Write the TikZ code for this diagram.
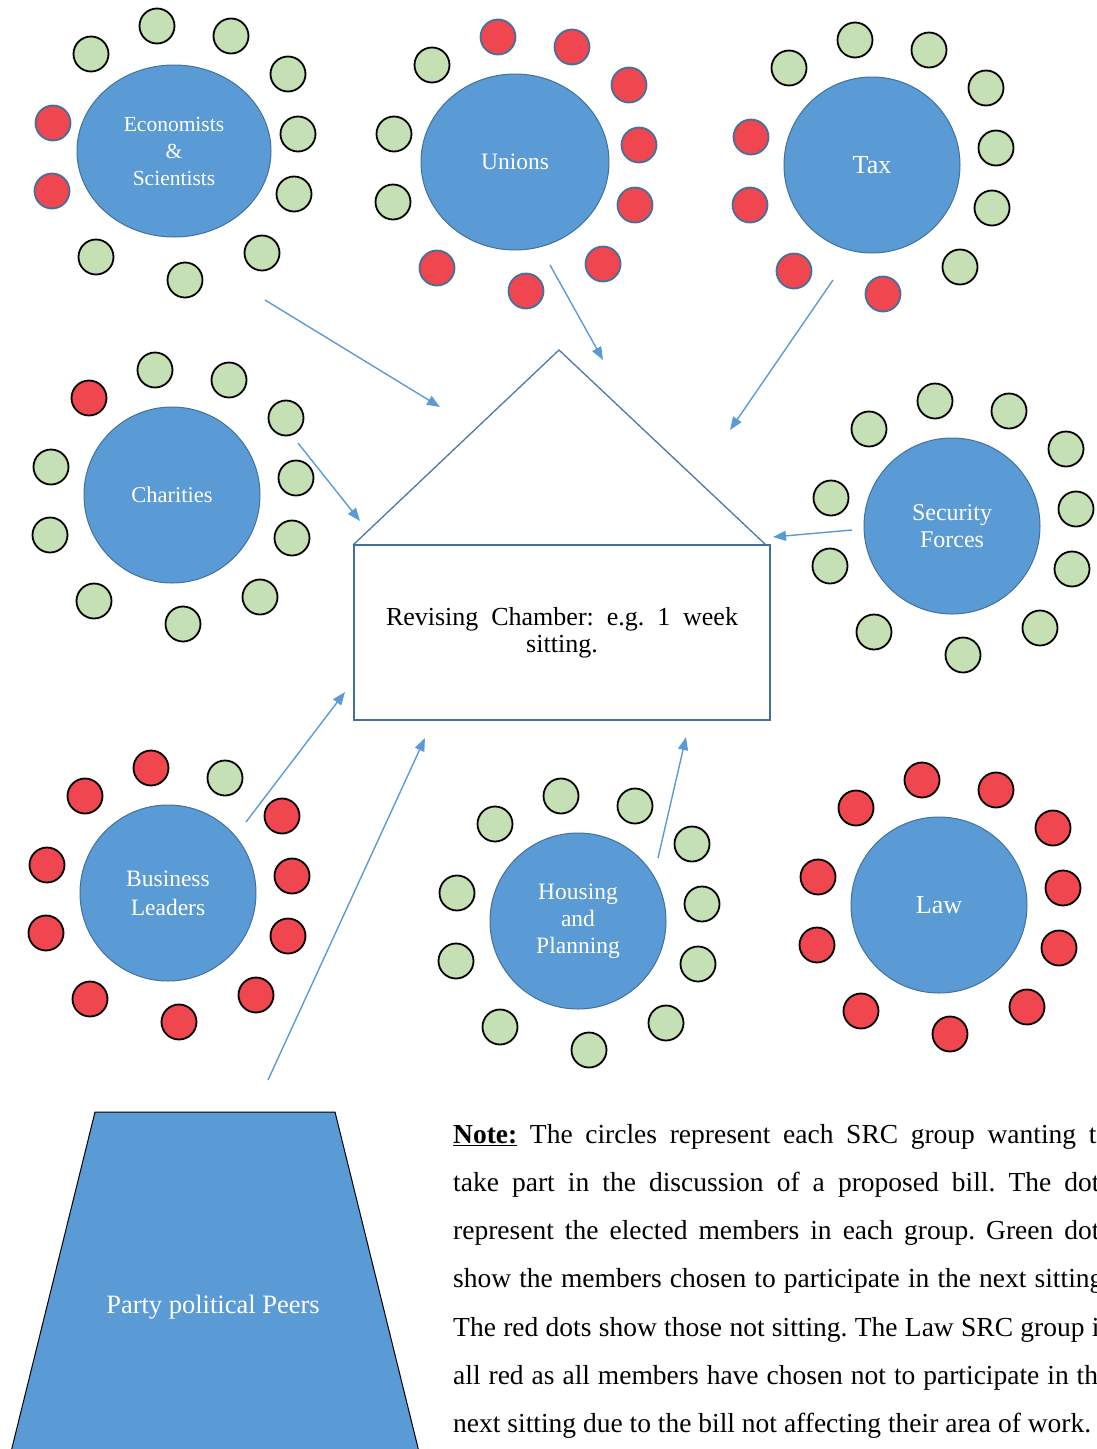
\documentclass[tikz,border=0pt]{standalone}
\usepackage{fontspec}
\setmainfont{Liberation Serif}
\frenchspacing
\usetikzlibrary{arrows.meta,shapes.geometric}
\definecolor{groupblue}{HTML}{5B9BD5}
\definecolor{groupedge}{HTML}{41719C}
\definecolor{seatgreen}{HTML}{C5E0B4}
\definecolor{seatred}{HTML}{F0464F}
\definecolor{linkblue}{HTML}{5B9BD5}
\definecolor{roofedge}{HTML}{4A78A8}

\tikzset{
  group/.style={ellipse, fill=groupblue, draw=groupedge, line width=1pt,
    minimum width=176pt, minimum height=176pt, inner sep=0pt,
    text=white, align=center},
  seatg/.style={circle, fill=seatgreen, draw=black, line width=1.8pt,
    minimum size=35pt, inner sep=0pt},
  seatr/.style={seatg, fill=seatred},
  seatrb/.style={seatr, draw=groupedge},
  link/.style={draw=linkblue, line width=1.4pt, -{Triangle[length=13pt,width=10pt]}},
  noteline/.style={anchor=base west, inner sep=0pt, font=\fontsize{27.5}{30}\selectfont},
}

% seats round a group: #1 group node, #2 array of seat styles
\newcommand{\seating}[2]{%
  \foreach \dx/\dy [count=\k from 0] in {-83/-97,-17/-125,57/-115,114/-77,124/-17,120/43,88/102,11/129,-78/106,-122/40,-121/-28}{
    \pgfmathsetmacro{\seat}{{#2}[\k]}
    \node[\seat] (#1-\k) at ([shift={(\dx,\dy)}]#1.center) {};
  }%
}

\begin{document}
\begin{tikzpicture}[x=1pt,y=-1pt]
\useasboundingbox (0,0) rectangle (1096,1449);
\clip (0,0) rectangle (1096,1449);

% the SRC groups
\node[group, minimum width=194pt, minimum height=172pt, font=\fontsize{21.5}{27}\selectfont] (econ) at (174,151) {Economists\\\&\\Scientists};
\node[group, minimum width=188pt, font=\fontsize{23.5}{27}\selectfont] (unions) at (515,162) {Unions};
\node[group, font=\fontsize{26}{28}\selectfont] (tax) at (872,165) {Tax};
\node[group, font=\fontsize{22.5}{27}\selectfont] (charities) at (172,495) {Charities};
\node[group, font=\fontsize{24}{27}\selectfont] (security) at (952,526) {Security\\Forces};
\node[group, font=\fontsize{23.5}{29}\selectfont] (business) at (168,893) {Business\\Leaders};
\node[group, font=\fontsize{23.5}{27}\selectfont] (housing) at (578,921) {Housing\\and\\Planning};
\node[group, font=\fontsize{26}{28}\selectfont] (law) at (939,905) {Law};

% members of each group
\seating{econ}{"seatg","seatg","seatg","seatg","seatg","seatg","seatg","seatg","seatg","seatrb","seatrb"}
\seating{unions}{"seatg","seatrb","seatrb","seatrb","seatrb","seatrb","seatrb","seatrb","seatrb","seatg","seatg"}
\seating{tax}{"seatg","seatg","seatg","seatg","seatg","seatg","seatg","seatrb","seatrb","seatrb","seatrb"}
\seating{charities}{"seatr","seatg","seatg","seatg","seatg","seatg","seatg","seatg","seatg","seatg","seatg"}
\seating{security}{"seatg","seatg","seatg","seatg","seatg","seatg","seatg","seatg","seatg","seatg","seatg"}
\seating{business}{"seatr","seatr","seatg","seatr","seatr","seatr","seatr","seatr","seatr","seatr","seatr"}
\seating{housing}{"seatg","seatg","seatg","seatg","seatg","seatg","seatg","seatg","seatg","seatg","seatg"}
\seating{law}{"seatr","seatr","seatr","seatr","seatr","seatr","seatr","seatr","seatr","seatr","seatr"}

% the revising chamber
\draw[roofedge, line width=1.3pt] (353,545) -- (559,350) -- (766,545);
\node[draw=groupedge, line width=1.8pt, minimum width=416pt, minimum height=175pt,
  inner sep=0pt, align=center, font=\fontsize{26}{27}\selectfont] (chamber) at (562,632.5)
  {\makebox[352pt][s]{Revising Chamber: e.g. 1 week}\\sitting.};

% party political peers
\filldraw[fill=groupblue, draw=black, line width=1pt] (95,1112) -- (335,1112) -- (421,1460) -- (9,1460) -- cycle;
\node[text=white, anchor=base, inner sep=0pt, font=\fontsize{26.5}{28}\selectfont] (peers) at (213,1313) {Party political Peers};

% arrow ends
\coordinate (econ-out) at (265,300);      \coordinate (econ-in) at (440,407);
\coordinate (unions-out) at (550,265);    \coordinate (unions-in) at (603,360);
\coordinate (tax-out) at (833,280);       \coordinate (tax-in) at (730,430);
\coordinate (charities-out) at (298,443); \coordinate (charities-in) at (360,521);
\coordinate (security-out) at (852,530);  \coordinate (security-in) at (773,537);
\coordinate (business-out) at (246,822);  \coordinate (business-in) at (345,692);
\coordinate (peers-out) at (268,1080);    \coordinate (peers-in) at (425,738);
\coordinate (housing-out) at (658,858);   \coordinate (housing-in) at (686,737);

% draw the arrows
\draw[link] (econ-out) -- (econ-in);
\draw[link] (unions-out) -- (unions-in);
\draw[link] (tax-out) -- (tax-in);
\draw[link] (charities-out) -- (charities-in);
\draw[link] (security-out) -- (security-in);
\draw[link] (business-out) -- (business-in);
\draw[link] (peers-out) -- (peers-in);
\draw[link] (housing-out) -- (housing-in);

% the note
\node[noteline] (note1) at (453,1143) {\makebox[657pt][s]{\underline{\textbf{Note:}} The circles represent each SRC group wanting to}};
\node[noteline] (note2) at (453,1191.3) {\makebox[657pt][s]{take part in the discussion of a proposed bill. The dots}};
\node[noteline] (note3) at (453,1239.6) {\makebox[657pt][s]{represent the elected members in each group. Green dots}};
\node[noteline] (note4) at (453,1287.9) {\makebox[657pt][s]{show the members chosen to participate in the next sitting.}};
\node[noteline] (note5) at (453,1336.2) {\makebox[657pt][s]{The red dots show those not sitting. The Law SRC group is}};
\node[noteline] (note6) at (453,1384.5) {\makebox[657pt][s]{all red as all members have chosen not to participate in the}};
\node[noteline] (note7) at (453,1432.8) {next sitting due to the bill not affecting their area of work.};

\end{tikzpicture}
\end{document}
